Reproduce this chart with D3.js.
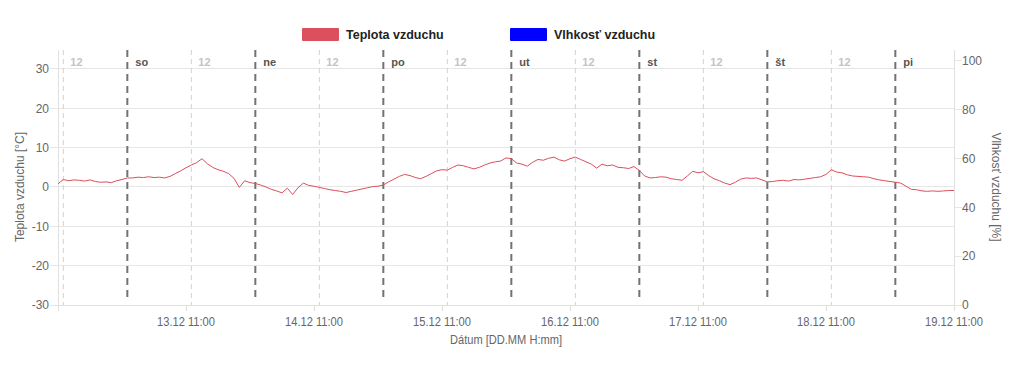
<!DOCTYPE html>
<html><head><meta charset="utf-8">
<script src="https://cdn.jsdelivr.net/npm/d3@7"></script>
<style>
html,body{margin:0;padding:0;background:#fff;}
svg{display:block;font-family:"Liberation Sans",Arial,sans-serif;}
</style></head>
<body><svg id="c" width="1024" height="372"></svg>
<script>
// ---- data ----
const startTime = "2025-12-12T11:00";
const endTime = "2025-12-19T11:00";
// hourly temperature readings starting at 12.12 11:00
const temperature = [
 0.8,1.9,1.6,1.8,1.7,1.5,1.8,1.4,1.2,1.3,1.1,1.6,1.9,2.3,
 2.3,2.5,2.4,2.6,2.4,2.5,2.3,2.7,3.4,4.1,4.9,5.6,6.2,7.2,5.9,5.0,4.4,4.0,3.4,2.2,-0.1,1.6,1.1,0.9,
 0.5,0.0,-0.6,-1.0,-1.5,-0.3,-1.9,-0.2,1.0,0.4,0.2,-0.1,-0.4,-0.7,-0.9,-1.1,-1.4,-1.1,-0.8,-0.5,-0.2,0.1,0.2,0.5,
 1.3,2.0,2.7,3.2,2.9,2.4,2.1,2.7,3.4,4.1,4.4,4.3,5.0,5.6,5.4,5.0,4.6,5.0,5.6,6.1,6.4,6.6,7.4,7.2,
 6.1,5.8,5.3,6.3,7.0,6.8,7.3,7.6,6.9,6.6,7.2,7.6,7.0,6.4,5.8,4.8,5.8,5.4,5.6,5.0,4.9,4.7,5.2,4.2,
 2.8,2.3,2.4,2.6,2.5,2.1,1.9,1.7,2.8,4.0,3.6,3.9,2.9,2.1,1.6,1.0,0.6,1.2,2.0,2.3,2.2,2.3,1.8,1.3,
 1.4,1.6,1.7,1.5,1.9,1.8,2.0,2.2,2.4,2.6,3.2,4.4,3.8,3.6,3.1,2.8,2.7,2.6,2.5,2.1,1.8,1.6,1.4,1.2,
 1.0,0.2,-0.6,-0.7,-1.0,-1.1,-1.0,-1.1,-1.0,-0.9,-0.9
];
const humidity = []; // no humidity data shown
const seriesNames = ["Teplota vzduchu","Vlhkosť vzduchu"];
const seriesColors = ["#dc4f5c","#0000ff"];
const dayLabels = ["so","ne","po","ut","st","št","pi"];
const noonLabel = "12";
const leftTicks = [-30,-20,-10,0,10,20,30];
const rightTicks = [0,20,40,60,80,100];
const xTickLabels = ["13.12 11:00","14.12 11:00","15.12 11:00","16.12 11:00","17.12 11:00","18.12 11:00","19.12 11:00"];

// ---- layout ----
const svg = d3.select("#c");
const M = {l:58, r:954, t:50, b:305};
const t0 = new Date(startTime), t1 = new Date(endTime);
const x = d3.scaleTime().domain([t0,t1]).range([M.l,M.r]);
const yL = d3.scaleLinear().domain([-30,34.83]).range([M.b,M.t]);
const yR = d3.scaleLinear().domain([0,104.5]).range([M.b,M.t]);
const HOUR = 3600e3;
const times = temperature.map((v,i)=>new Date(+t0 + i*HOUR));

// horizontal grid (left axis)
svg.append("g").selectAll("line").data(leftTicks).join("line")
 .attr("x1",M.l-8).attr("x2",M.r).attr("y1",d=>yL(d)).attr("y2",d=>yL(d))
 .attr("stroke","#e6e6e6").attr("stroke-width",1).attr("shape-rendering","crispEdges");
// right ticks
svg.append("g").selectAll("line").data(rightTicks).join("line")
 .attr("x1",M.r).attr("x2",M.r+8).attr("y1",d=>yR(d)).attr("y2",d=>yR(d))
 .attr("stroke","#e6e6e6").attr("shape-rendering","crispEdges");

// axis lines
svg.append("line").attr("x1",M.l).attr("x2",M.l).attr("y1",M.t).attr("y2",M.b+6).attr("stroke","#e0e0e0").attr("shape-rendering","crispEdges");
svg.append("line").attr("x1",M.r).attr("x2",M.r).attr("y1",M.t).attr("y2",M.b+6).attr("stroke","#e0e0e0").attr("shape-rendering","crispEdges");
svg.append("line").attr("x1",M.l).attr("x2",M.r).attr("y1",M.b).attr("y2",M.b).attr("stroke","#e0e0e0").attr("shape-rendering","crispEdges");

// x tick marks at 11:00
const xTickDates = xTickLabels.map((s,i)=>new Date(+t0 + (i+1)*24*HOUR));
svg.append("g").selectAll("line").data(xTickDates).join("line")
 .attr("x1",d=>x(d)).attr("x2",d=>x(d)).attr("y1",M.b).attr("y2",M.b+6)
 .attr("stroke","#e0e0e0").attr("shape-rendering","crispEdges");

// noon lines
const noonDates = d3.range(7).map(i=>new Date(+t0 + HOUR + i*24*HOUR));
svg.append("g").selectAll("line").data(noonDates).join("line")
 .attr("x1",d=>x(d)).attr("x2",d=>x(d)).attr("y1",M.t).attr("y2",M.b)
 .attr("stroke","#d2d2d2").attr("stroke-width",1).attr("stroke-dasharray","5,4");
svg.append("g").selectAll("text").data(noonDates).join("text")
 .attr("x",d=>x(d)+7).attr("y",66).text(noonLabel)
 .attr("fill","#c4c4c4").attr("font-size",11).attr("font-weight","bold");

// midnight lines
const midDates = d3.range(7).map(i=>new Date(+t0 + 13*HOUR + i*24*HOUR));
svg.append("g").selectAll("line").data(midDates).join("line")
 .attr("x1",d=>x(d)).attr("x2",d=>x(d)).attr("y1",M.t).attr("y2",M.b-3)
 .attr("stroke","#737373").attr("stroke-width",2).attr("stroke-dasharray","7,5");
svg.append("g").selectAll("text").data(midDates).join("text")
 .attr("x",d=>x(d)+8).attr("y",66).text((d,i)=>dayLabels[i])
 .attr("fill","#555").attr("font-size",11).attr("font-weight","bold");

// temperature line
svg.append("path").datum(temperature)
 .attr("d",d3.line().x((d,i)=>x(times[i])).y(d=>yL(d)))
 .attr("fill","none").attr("stroke",seriesColors[0]).attr("stroke-width",1);

// tick labels
svg.append("g").selectAll("text").data(leftTicks).join("text")
 .attr("x",49).attr("y",d=>yL(d)).attr("dy","0.35em").attr("text-anchor","end")
 .attr("fill","#666").attr("font-size",12).text(d=>d);
svg.append("g").selectAll("text").data(rightTicks).join("text")
 .attr("x",962).attr("y",d=>yR(d)).attr("dy","0.35em").attr("text-anchor","start")
 .attr("fill","#666").attr("font-size",12).text(d=>d);
svg.append("g").selectAll("text").data(xTickDates).join("text")
 .attr("x",d=>x(d)).attr("y",326).attr("text-anchor","middle")
 .attr("fill","#666").attr("font-size",12).attr("textLength",58).attr("lengthAdjust","spacingAndGlyphs")
 .text((d,i)=>xTickLabels[i]);

// axis titles
svg.append("text").attr("x",506).attr("y",344).attr("text-anchor","middle")
 .attr("fill","#666").attr("font-size",12).attr("textLength",112).attr("lengthAdjust","spacingAndGlyphs")
 .text("Dátum [DD.MM H:mm]");
svg.append("text").attr("transform","translate(24,187) rotate(-90)").attr("text-anchor","middle")
 .attr("fill","#666").attr("font-size",12).text("Teplota vzduchu [°C]");
svg.append("text").attr("transform","translate(992,187) rotate(90)").attr("text-anchor","middle")
 .attr("fill","#666").attr("font-size",12).text("Vlhkosť vzduchu [%]");

// legend
const legX = [302,510];
const lg = svg.append("g").selectAll("g").data(seriesNames).join("g")
 .attr("transform",(d,i)=>`translate(${legX[i]},28)`);
lg.append("rect").attr("width",37).attr("height",13).attr("rx",1).attr("fill",(d,i)=>seriesColors[i]);
lg.append("text").attr("x",44).attr("y",11).text(d=>d)
 .attr("font-size",12.5).attr("font-weight","bold").attr("fill","#222");
</script></body></html>
